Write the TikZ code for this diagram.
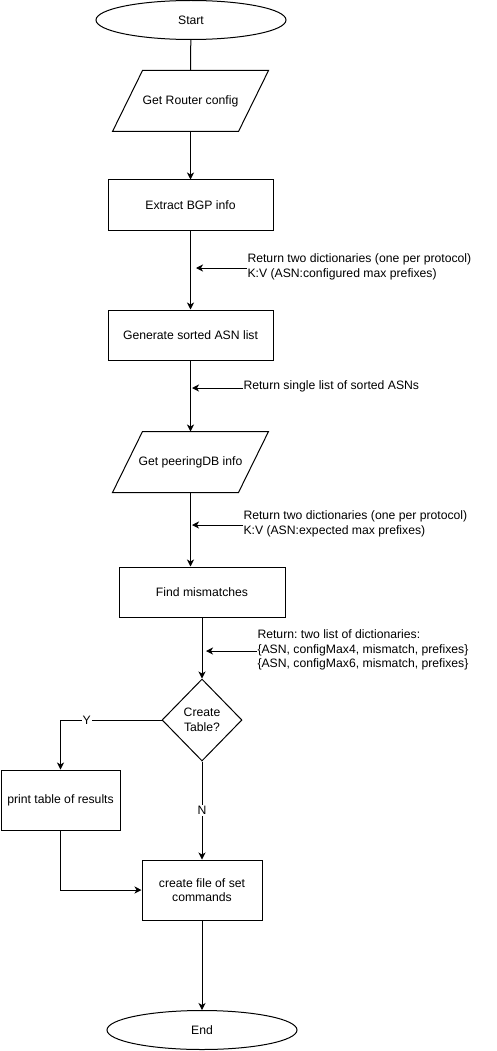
\documentclass[tikz,border=0pt]{standalone}
\usepackage{fontspec}
\setmainfont{Liberation Sans}
\usetikzlibrary{shapes.geometric,arrows.meta}
\frenchspacing
\begin{document}
\begin{tikzpicture}[x=1pt,y=-1pt, line width=1pt,
 every node/.style={font=\fontsize{12.2}{14.5}\selectfont},
 box/.style={draw, rectangle, minimum width=165pt, minimum height=50pt, inner sep=0pt, align=center},
 term/.style={draw, ellipse, minimum width=190pt, minimum height=39pt, inner sep=0pt},
 io/.style={rectangle, minimum width=125pt, minimum height=60pt, inner sep=0pt},
 decision/.style={draw, diamond, minimum width=80pt, minimum height=82pt, inner sep=0pt, align=center},
 flow/.style={-{Stealth[length=7pt,width=7pt,inset=2pt]}},
 note/.style={anchor=west, align=left, inner sep=0pt},
 lbl/.style={fill=white, inner sep=1pt}]
\useasboundingbox (0,0) rectangle (496,1051);

\node[term] (start) at (191,20) {Start};
\node[io] (router) at (190.5,101) {Get Router config};
\draw ([xshift=15pt]router.north west) -- ([xshift=15pt]router.north east) -- ([xshift=-15pt]router.south east) -- ([xshift=-15pt]router.south west) -- cycle;
\node[box] (extract) at (190.5,205) {Extract BGP info};
\node[box] (sorted) at (190.5,335) {Generate sorted ASN list};
\node[io] (peering) at (190.5,462) {Get peeringDB info};
\draw ([xshift=15pt]peering.north west) -- ([xshift=15pt]peering.north east) -- ([xshift=-15pt]peering.south east) -- ([xshift=-15pt]peering.south west) -- cycle;
\node[box, minimum width=166pt] (find) at (202,592) {Find mismatches};
\node[decision] (table) at (202,720) {Create\\Table?};
\node[box, minimum width=119pt, minimum height=60pt] (print) at (60.5,800) {print table of results};
\node[box, minimum width=120pt, minimum height=60pt] (create) at (202,890) {create file of set\\commands};
\node[term] (end) at (202,1030) {End};

\draw (start) -- (router.north);
\draw[flow] (router.south) -- (extract.north);
\draw[flow] (extract.south) -- (sorted.north);
\draw[flow] (sorted.south) -- (peering.north);
\draw[flow] (peering.south) -- (peering.south |- find.north);
\draw[flow] (find.south) -- (table.north);
\draw[flow] (table.west) -| node[lbl, pos=0.37] {Y} (print.north);
\draw[flow] (table.south) -- node[lbl, pos=0.5] {N} (create.north);
\draw[flow] (print.south) |- (create.west);
\draw[flow] (create.south) -- (end.north);

\node[note] (n1) at (247,267) {Return two dictionaries (one per protocol)\\K:V (ASN:configured max prefixes)};
\coordinate (c1) at (196,268);
\draw[flow] (n1.west |- c1) -- (c1);
\node[note] (n2) at (243,386) {Return single list of sorted ASNs};
\coordinate (c2) at (192,388);
\draw[flow] (n2.west |- c2) -- (c2);
\node[note] (n3) at (243,524) {Return two dictionaries (one per protocol)\\K:V (ASN:expected max prefixes)};
\coordinate (c3) at (192,525);
\draw[flow] (n3.west |- c3) -- (c3);
\node[note] (n4) at (257,650) {Return: two list of dictionaries:\\\{ASN, configMax4, mismatch, prefixes\}\\\{ASN, configMax6, mismatch, prefixes\}};
\coordinate (c4) at (206,651);
\draw[flow] (n4.west |- c4) -- (c4);
\end{tikzpicture}
\end{document}
